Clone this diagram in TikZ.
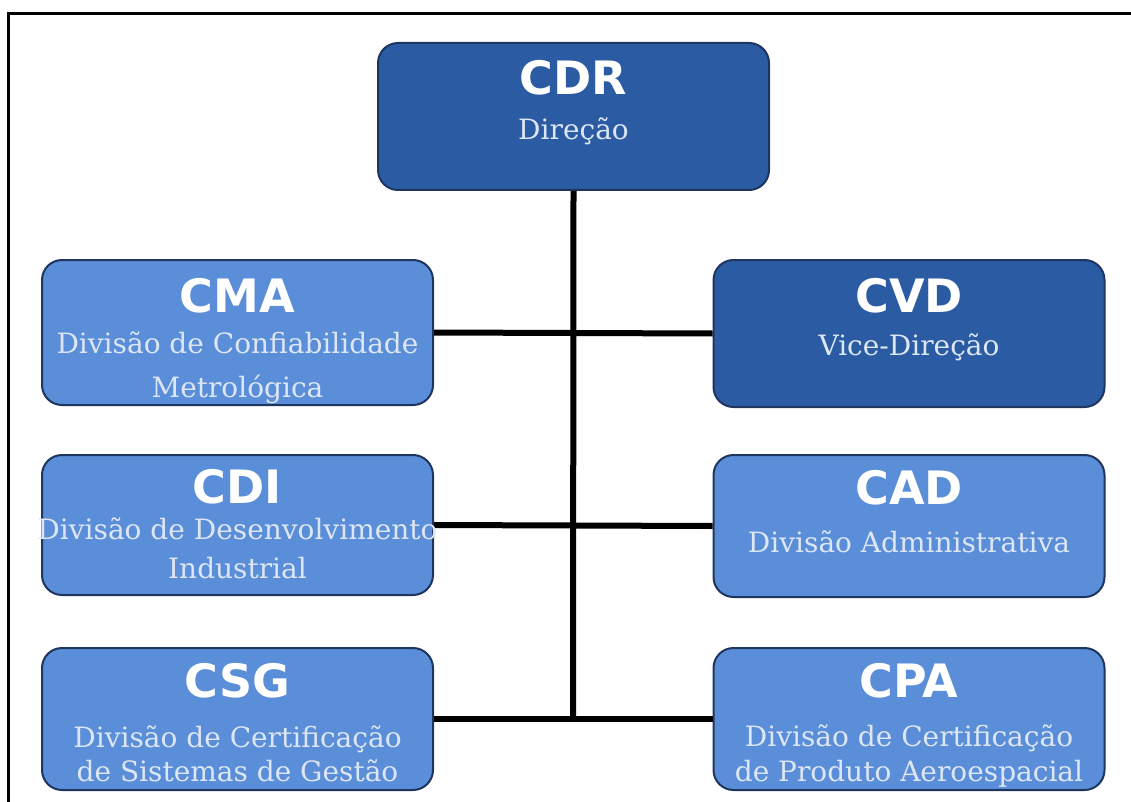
\documentclass[tikz,border=0pt]{standalone}
\usepackage{fontspec}
\newfontfamily\ttlfont{DejaVu Sans}
\newfontfamily\subfont{DejaVu Serif}
\definecolor{darkbox}{HTML}{2B5CA3}
\definecolor{lightbox}{HTML}{5B8ED8}
\definecolor{boxline}{HTML}{1E3560}
\definecolor{subtext}{HTML}{DCE6F4}
\tikzset{
  orgbox/.style={draw=boxline, line width=2pt, rounded corners=20pt, minimum width=391pt, inner sep=0pt},
  darkfill/.style={orgbox, fill=darkbox},
  lightfill/.style={orgbox, fill=lightbox},
  ttl/.style={anchor=base, inner sep=0pt, text=white, font=\ttlfont\bfseries\fontsize{46}{46}\selectfont},
  sub/.style={anchor=base, inner sep=0pt, text=subtext, font=\subfont\fontsize{28}{28}\selectfont},
  link/.style={line width=6pt, black},
  frameline/.style={line width=3pt, black}
}
\begin{document}
\begin{tikzpicture}[x=1pt, y=-1pt]
\useasboundingbox (0,0) rectangle (1131,802);
% frame (top and left only)
\coordinate (fr1) at (1131,14);
\coordinate (fr2) at (8,14);
\coordinate (fr3) at (8,802);
\draw[frameline] (fr1) -- (fr2) -- (fr3);

% boxes
\node[darkfill, minimum height=147pt] (cdr) at (573.5,116.5) {};
\node[lightfill, minimum height=145pt] (cma) at (237.5,332.5) {};
\node[darkfill, minimum height=147pt] (cvd) at (909,333.5) {};
\node[lightfill, minimum height=140pt] (cdi) at (237.5,525) {};
\node[lightfill, minimum height=142pt] (cad) at (909,526) {};
\node[lightfill, minimum height=142pt] (csg) at (237.5,719) {};
\node[lightfill, minimum height=142pt] (cpa) at (909,719) {};

% connectors
\coordinate (vend) at (573,719);
\draw[link] (cdr.south) -- (vend);
\draw[link] (cma.east) -- (cvd.west);
\draw[link] (cdi.east) -- (cad.west);
\draw[link] (csg.east) -- (cpa.west);

% texts
\node[ttl] (cdr-t) at (573.5,95) {CDR};
\node[sub] (cdr-s) at (573.5,140) {Direção};

\node[ttl] (cma-t) at (237.5,312) {CMA};
\node[sub] (cma-s1) at (237.5,353) {Divisão de Confiabilidade};
\node[sub] (cma-s2) at (237.5,397) {Metrológica};

\node[ttl] (cvd-t) at (909,312) {CVD};
\node[sub] (cvd-s) at (909,355) {Vice-Direção};

\node[ttl] (cdi-t) at (237.5,503) {CDI};
\node[sub] (cdi-s1) at (237.5,539) {Divisão de Desenvolvimento};
\node[sub] (cdi-s2) at (237.5,578) {Industrial};

\node[ttl] (cad-t) at (909,504) {CAD};
\node[sub] (cad-s) at (909,552) {Divisão Administrativa};

\node[ttl] (csg-t) at (237.5,697) {CSG};
\node[sub] (csg-s1) at (237.5,747) {Divisão de Certificação};
\node[sub] (csg-s2) at (237.5,781) {de Sistemas de Gestão};

\node[ttl] (cpa-t) at (909,697) {CPA};
\node[sub] (cpa-s1) at (909,746) {Divisão de Certificação};
\node[sub] (cpa-s2) at (909,781) {de Produto Aeroespacial};
\end{tikzpicture}
\end{document}
